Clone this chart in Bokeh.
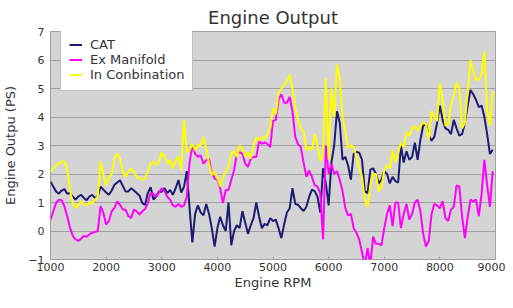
from bokeh.plotting import figure
from bokeh.models import FixedTicker, Range1d
from bokeh.embed import file_html
from bokeh.resources import INLINE

rpm = [1000, 1050, 1100, 1150, 1200, 1250, 1300, 1350, 1400, 1450,
       1500, 1550, 1600, 1650, 1700, 1750, 1800, 1850, 1900, 1950,
       2000, 2050, 2100, 2150, 2200, 2250, 2300, 2350, 2400, 2450,
       2500, 2550, 2600, 2650, 2700, 2750, 2800, 2850, 2900, 2950,
       3000, 3050, 3100, 3150, 3200, 3250, 3300, 3350, 3400, 3450,
       3500, 3550, 3600, 3650, 3700, 3750, 3800, 3850, 3900, 3950,
       4000, 4050, 4100, 4150, 4200, 4250, 4300, 4350, 4400, 4450,
       4500, 4550, 4600, 4650, 4700, 4750, 4800, 4850, 4900, 4950,
       5000, 5050, 5100, 5150, 5200, 5250, 5300, 5350, 5400, 5450,
       5500, 5550, 5600, 5650, 5700, 5750, 5800, 5850, 5900, 5950,
       6000, 6050, 6100, 6150, 6200, 6250, 6300, 6350, 6400, 6450,
       6500, 6550, 6600, 6650, 6700, 6750, 6800, 6850, 6900, 6950,
       7000, 7050, 7100, 7150, 7200, 7250, 7300, 7350, 7400, 7450,
       7500, 7550, 7600, 7650, 7700, 7750, 7800, 7850, 7900, 7950,
       8000, 8050, 8100, 8150, 8200, 8250, 8300, 8350, 8400, 8450,
       8500, 8550, 8600, 8650, 8700, 8750, 8800, 8850, 8900, 8950]

cat = [1.73, 1.56, 1.39, 1.31, 1.42, 1.47, 1.31, 1.33, 1.21, 1.10,
       1.21, 1.27, 1.16, 1.08, 1.21, 1.27, 1.16, 1.21, 1.56, 1.45,
       1.35, 1.27, 1.42, 1.62, 1.70, 1.78, 1.58, 1.39, 1.39, 1.50,
       1.42, 1.33, 1.24, 0.98, 0.92, 1.33, 1.54, 1.10, 1.21, 1.39,
       1.38, 1.50, 1.33, 1.44, 1.27, 1.50, 1.79, 1.35, 1.55, 2.10,
       0.80, -0.40, 0.60, 0.90, 0.65, 0.55, 0.95, 0.60, 0.10, -0.55,
       0.10, 0.50, 0.20, 0.00, 1.00, -0.50, 0.00, 0.20, 0.10, 0.70,
       0.30, -0.10, 0.20, 0.45, 1.00, 0.50, 0.10, 0.25, 0.20, 0.45,
       0.35, 0.40, 0.10, -0.25, 0.23, 0.65, 0.80, 1.50, 0.95, 0.92,
       0.80, 0.70, 0.85, 1.20, 1.45, 1.40, 1.20, 0.65, 2.20, 1.67,
       0.90, 2.40, 3.00, 4.20, 3.80, 2.50, 2.60, 2.30, 1.80, 2.70,
       2.77, 2.75, 2.50, 1.40, 1.33, 2.15, 2.20, 2.00, 1.67, 1.80,
       2.10, 2.00, 1.67, 1.90, 1.75, 1.70, 3.00, 2.40, 2.80, 2.50,
       2.60, 3.10, 2.50, 3.20, 3.70, 3.75, 3.35, 3.17, 3.30, 3.80,
       4.40, 3.90, 3.60, 3.55, 3.40, 3.90, 3.60, 3.35, 3.40, 3.80,
       4.40, 4.95, 4.80, 4.60, 4.35, 4.40, 4.00, 3.40, 2.70, 2.85]

ex_manifold = [0.40, 0.69, 0.98, 1.10, 1.08, 0.87, 0.52, 0.12, -0.17, -0.29,
               -0.35, -0.27, -0.17, -0.20, -0.12, -0.06, -0.03, 0.00, 0.87, 0.64,
               0.23, 0.35, 0.69, 0.81, 1.04, 0.92, 0.75, 0.75, 0.52, 0.46,
               0.75, 0.69, 0.58, 0.69, 0.77, 0.98, 1.33, 1.30, 1.20, 1.35,
               1.50, 1.40, 1.20, 1.10, 0.90, 0.85, 0.95, 0.85, 0.90, 1.20,
               2.40, 3.00, 2.71, 2.60, 2.65, 2.36, 2.48, 2.54, 2.02, 1.85,
               1.79, 1.50, 0.98, 1.44, 1.44, 1.79, 2.13, 2.71, 2.77, 2.71,
               2.36, 2.25, 2.54, 2.60, 2.60, 3.17, 3.06, 3.11, 3.06, 2.94,
               3.86, 3.90, 4.60, 4.80, 4.50, 4.50, 4.70, 4.20, 3.30, 3.05,
               2.94, 2.40, 1.90, 2.13, 1.90, 1.60, 1.56, 1.33, -0.30, 3.00,
               2.00, 2.36, 2.00, 2.10, 1.79, 1.40, 0.80, 0.55, 0.60, 0.10,
               -0.06, -0.30, -0.75, -1.20, -0.60, -1.20, -0.20, -0.45, -0.45, -0.50,
               0.10, 0.60, 0.90, 0.17, 1.00, 1.00, 0.10, 0.60, 0.95, 0.40,
               0.60, 1.00, 1.10, 0.70, -0.10, -0.55, -0.35, 0.60, 0.95, 0.90,
               0.80, 1.05, 0.45, 0.35, 0.75, 0.85, 1.60, 1.56, 0.50, -0.25,
               0.50, 1.10, 1.04, 1.10, 0.52, 1.30, 2.50, 1.60, 0.85, 2.10]

in_combination = [2.08, 2.20, 2.31, 2.37, 2.43, 2.43, 2.20, 1.45, 0.98, 0.81,
                  0.92, 1.04, 0.96, 0.89, 1.00, 0.96, 1.10, 1.20, 2.43, 2.00,
                  1.60, 1.85, 2.00, 2.54, 2.72, 2.54, 2.08, 1.90, 2.08, 2.20,
                  2.08, 1.90, 1.85, 1.79, 1.85, 2.08, 2.37, 2.43, 2.31, 2.43,
                  2.75, 2.60, 2.36, 2.48, 2.19, 2.48, 2.60, 2.15, 3.90, 2.75,
                  2.83, 3.06, 2.83, 3.00, 3.00, 3.29, 2.88, 2.36, 1.96, 2.08,
                  1.85, 1.56, 1.90, 2.08, 2.25, 2.71, 2.83, 2.60, 3.00, 2.88,
                  2.60, 2.77, 2.54, 3.00, 3.29, 3.17, 3.29, 3.23, 3.40, 3.63,
                  4.30, 4.10, 4.85, 5.00, 5.13, 5.25, 5.48, 5.00, 4.30, 3.90,
                  3.60, 3.50, 2.85, 2.94, 2.85, 3.40, 3.00, 2.45, 2.70, 5.36,
                  2.50, 5.00, 4.00, 5.85, 5.30, 4.00, 3.50, 2.90, 3.00, 2.95,
                  2.60, 2.20, 1.90, 1.10, 0.85, 1.60, 2.00, 2.00, 1.40, 1.55,
                  2.13, 2.30, 2.20, 2.83, 2.40, 2.75, 3.10, 2.94, 3.45, 3.35,
                  3.60, 3.68, 3.52, 3.69, 3.80, 3.75, 3.20, 4.20, 4.00, 3.86,
                  5.19, 4.60, 3.70, 3.75, 4.44, 4.75, 5.20, 5.02, 3.60, 3.80,
                  4.90, 6.00, 5.60, 5.31, 5.31, 5.50, 6.30, 4.20, 3.70, 4.90]

x_ticks = [1000, 2000, 3000, 4000, 5000, 6000, 7000, 8000, 9000]
y_ticks = [-1, 0, 1, 2, 3, 4, 5, 6, 7]

FONT = "DejaVu Sans"

p = figure(width=505, height=292, output_backend="svg", toolbar_location=None,
           x_range=Range1d(1000, 9000), y_range=Range1d(-1, 7),
           title="Engine Output",
           min_border_left=0, min_border_right=10, min_border_top=0, min_border_bottom=0)

p.background_fill_color = "#d4d4d4"
p.border_fill_color = "white"
p.outline_line_color = "#a0a0a0"
p.outline_line_width = 1

p.title.align = "center"
p.title.text_font = FONT
p.title.text_font_size = "18px"
p.title.text_font_style = "normal"
p.title.text_color = "#333333"
p.title.standoff = 8

p.xgrid.grid_line_color = None
p.ygrid.grid_line_color = "#a0a0a0"
p.ygrid.grid_line_width = 1

p.xaxis.ticker = FixedTicker(ticks=x_ticks)
p.yaxis.ticker = FixedTicker(ticks=y_ticks)
for ax in (p.xaxis, p.yaxis):
    ax.axis_line_color = None
    ax.minor_tick_line_color = None
    ax.major_label_text_font = FONT
    ax.major_label_text_font_size = "11px"
    ax.major_label_text_color = "#333333"
    ax.axis_label_text_font = FONT
    ax.axis_label_text_font_size = "13px"
    ax.axis_label_text_font_style = "normal"
    ax.axis_label_text_color = "#333333"

p.xaxis.major_tick_in = 3
p.xaxis.major_tick_out = 0
p.xaxis.major_tick_line_color = "#a0a0a0"
p.xaxis.major_label_standoff = 3
p.xaxis.axis_label = "Engine RPM"
p.xaxis.axis_label_standoff = 1

p.yaxis.major_tick_line_color = None
p.yaxis.major_tick_in = 0
p.yaxis.major_tick_out = 0
p.yaxis.major_label_standoff = 6
p.yaxis.axis_label = "Engine Outpu (PS)"
p.yaxis.axis_label_standoff = 7

p.line(rpm, cat, line_color="#1c1c74", line_width=2, legend_label="CAT")
p.line(rpm, ex_manifold, line_color="#ff00ff", line_width=2, legend_label="Ex Manifold")
p.line(rpm, in_combination, line_color="#ffff00", line_width=2, legend_label="In Conbination")

lg = p.legend[0]
lg.location = (10, 168)
lg.background_fill_color = "white"
lg.background_fill_alpha = 1
lg.border_line_color = "#808080"
lg.border_line_width = 1
lg.label_text_font = FONT
lg.label_text_font_size = "13px"
lg.label_text_color = "#333333"
lg.padding = 8
lg.spacing = 0
lg.label_height = 13
lg.glyph_height = 13
lg.glyph_width = 13
lg.label_standoff = 8
lg.margin = 0

open("out.html", "w").write(file_html(p, INLINE))
